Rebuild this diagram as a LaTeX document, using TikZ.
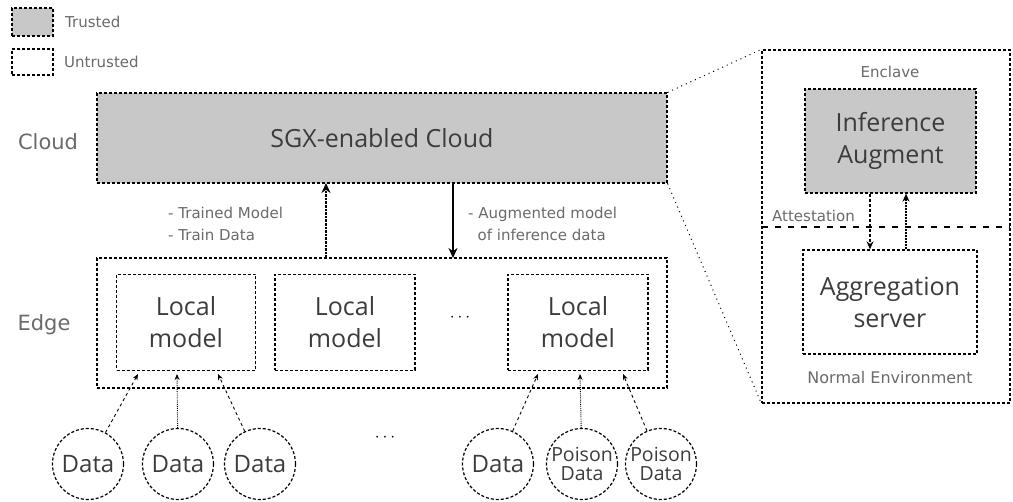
\documentclass[tikz,border=0pt]{standalone}
\usepackage{fontspec}
\setmainfont{Open Sans}
\newfontfamily\lblfont{DejaVu Sans}
\usetikzlibrary{arrows.meta,calc}
\definecolor{trust}{HTML}{C8C8C8}
\definecolor{txt}{HTML}{3C3C3C}
\definecolor{lbl}{HTML}{6A6A6A}
\tikzset{
  boxbase/.style={draw=black, line width=1.3pt, densely dashed, inner sep=0pt, align=center, text=txt},
  trustedbox/.style={boxbase, fill=trust},
  untrustedbox/.style={boxbase, fill=white},
  bigtxt/.style={font=\fontsize{25}{32}\selectfont},
  datanode/.style={circle, draw=black, line width=1.2pt, densely dashed, minimum size=71pt, inner sep=0pt, align=center, text=txt},
  smalllbl/.style={text=lbl, font=\lblfont\fontsize{15}{22}\selectfont, align=left, inner sep=0pt},
  sidelbl/.style={text=lbl, font=\lblfont\fontsize{21}{24}\selectfont, inner sep=0pt},
  dataarrow/.style={-{Stealth[length=6pt,width=5pt]}, line width=0.9pt},
  bigarrow/.style={-{Stealth[length=10pt,width=9pt]}, line width=2.6pt},
}
\begin{document}
\begin{tikzpicture}[x=1pt,y=-1pt]
\useasboundingbox (0,0) rectangle (1013,502);
% legend
\node[trustedbox, minimum width=41pt, minimum height=28pt] (legT) at (32.5,22) {};
\node[untrustedbox, minimum width=41pt, minimum height=26pt] (legU) at (32.5,62) {};
\node[smalllbl, font=\lblfont\fontsize{15}{16}\selectfont, anchor=west] (legTt) at (65,22) {Trusted};
\node[smalllbl, font=\lblfont\fontsize{15}{16}\selectfont, anchor=west] (legUt) at (64,62) {Untrusted};
% side labels
\node[sidelbl] (cloudlbl) at (48,142) {Cloud};
\node[sidelbl] (edgelbl) at (44,325) {Edge};
% cloud
\node[trustedbox, bigtxt, minimum width=570pt, minimum height=90pt] (cloud) at (382,138) {SGX-enabled Cloud};
% edge container
\node[untrustedbox, minimum width=570pt, minimum height=130pt] (edge) at (382,323) {};
\node[untrustedbox, bigtxt, minimum width=139pt, minimum height=96pt] (lm1) at (186,322.5) {Local\\model};
\node[untrustedbox, bigtxt, minimum width=140pt, minimum height=96pt] (lm2) at (345,322.5) {Local\\model};
\node[untrustedbox, bigtxt, minimum width=140pt, minimum height=96pt] (lm3) at (578,322.5) {Local\\model};
\node[text=black, font=\fontsize{18}{20}\selectfont] (dots1) at (460,318) {$\cdots$};
% arrows cloud/edge
\coordinate (upS) at (326,258);
\coordinate (upE) at (326,183);
\coordinate (dnS) at (453,183);
\coordinate (dnE) at (453,258);
\draw[bigarrow, densely dotted] (upS) -- (upE);
\draw[bigarrow] (dnS) -- (dnE);
\node[smalllbl, anchor=west] (lblL) at (168,224) {- Trained Model\\- Train Data};
\node[smalllbl, anchor=west] (lblR) at (468,224) {- Augmented model\\\ \ of inference data};
% data
\node[datanode, font=\fontsize{24}{24}\selectfont] (d1) at (88,464) {Data};
\node[datanode, font=\fontsize{24}{24}\selectfont] (d2) at (178,464) {Data};
\node[datanode, font=\fontsize{24}{24}\selectfont] (d3) at (260,464) {Data};
\node[datanode, font=\fontsize{24}{24}\selectfont] (d4) at (498,464) {Data};
\node[datanode, font=\fontsize{19.5}{19.5}\selectfont] (d5) at (582,464) {Poison\\Data};
\node[datanode, font=\fontsize{19.5}{19.5}\selectfont] (d6) at (661,464) {Poison\\Data};
\node[text=black, font=\fontsize{18}{20}\selectfont] (dots2) at (385,438) {$\cdots$};
\coordinate (a1) at (138,374);
\coordinate (a2) at (177,374);
\coordinate (a3) at (218,374);
\coordinate (a4) at (538,374);
\coordinate (a5) at (580,374);
\coordinate (a6) at (623,374);
\draw[dataarrow, dashed] (d1) -- (a1);
\draw[dataarrow, densely dotted] (d2) -- (a2);
\draw[dataarrow, dashed] (d3) -- (a3);
\draw[dataarrow, dashed] (d4) -- (a4);
\draw[dataarrow, densely dotted] (d5) -- (a5);
\draw[dataarrow, dashed] (d6) -- (a6);
% enclave panel
\node[draw=black, line width=1.2pt, densely dashed, minimum width=248pt, minimum height=353pt, inner sep=0pt] (enc) at (886,226.5) {};
\draw[loosely dotted, line width=1pt] (cloud.north east) -- (enc.north west);
\draw[loosely dotted, line width=1pt] (cloud.south east) -- (enc.south west);
\node[smalllbl] (enclbl) at (890,72) {Enclave};
\node[trustedbox, bigtxt, minimum width=171pt, minimum height=104pt] (ia) at (890.5,141) {Inference\\Augment};
\node[untrustedbox, bigtxt, minimum width=174pt, minimum height=104pt] (as) at (890,302) {Aggregation\\server};
\coordinate (attL) at (762,227);
\coordinate (attR) at (1010,227);
\draw[line width=1.6pt, dash pattern=on 6pt off 7pt] (attL) -- (attR);
\node[smalllbl, anchor=west] (attlbl) at (772,216) {Attestation};
\node[smalllbl, font=\lblfont\fontsize{16}{20}\selectfont] (nelbl) at (890,378) {Normal Environment};
\draw[-{Stealth[length=8pt,width=7pt]}, line width=2pt, densely dashed] (ia.south -| 870,0) -- (as.north -| 870,0);
\draw[-{Stealth[length=8pt,width=7pt]}, line width=2pt, densely dotted] (as.north -| 906,0) -- (ia.south -| 906,0);
\end{tikzpicture}
\end{document}
